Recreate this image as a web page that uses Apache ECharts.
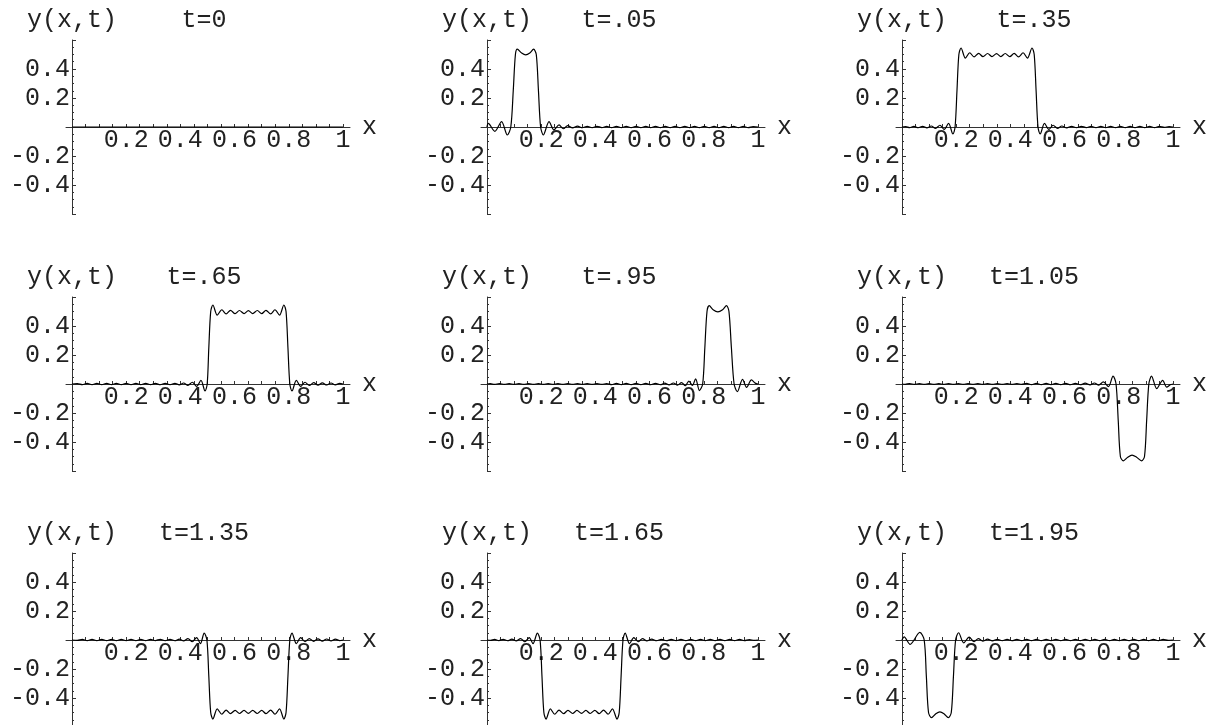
<!DOCTYPE html>
<html>
<head>
    <meta charset="utf-8">
    <title>y(x,t)</title>
    <style>
        html, body { margin: 0; padding: 0; background: #fff; }
    </style>
</head>
<body>
<!-- 9 small plots of the string -->
<div id="main" style="width: 1219px;height:725px;"></div>

<script src="https://cdn.jsdelivr.net/npm/echarts@6.0.0/dist/echarts.min.js"></script>

<script type="text/javascript">
// panel titles
var timeLabels = ['t=0', 't=.05', 't=.35', 't=.65', 't=.95', 't=1.05', 't=1.35', 't=1.65', 't=1.95'];

// tick labels
var xTickLabels = [0.2, 0.4, 0.6, 0.8, 1];
var yTickLabels = [-0.4, -0.2, 0.2, 0.4];
var xMinorTicks = [0.05, 0.1, 0.15, 0.2, 0.25, 0.3, 0.35, 0.4, 0.45, 0.5, 0.55, 0.6, 0.65, 0.7, 0.75, 0.8, 0.85, 0.9, 0.95, 1];

// curves, [x, y]
var curveT0 = [[0, 0], [1, 0]];

var curveT005 = [
    [0, 0], [0.005, 0.025], [0.029, -0.03], [0.054, 0.037], [0.075, -0.055], [0.088, 0], [0.097, 0.25], [0.105, 0.5],
    [0.112, 0.537], [0.128, 0.51], [0.143, 0.497], [0.158, 0.51], [0.172, 0.537], [0.182, 0.5], [0.19, 0.25], [0.198, 0],
    [0.208, -0.055], [0.229, 0.037], [0.247, -0.02], [0.266, 0.014], [0.282, -0.012], [0.298, 0.009],
    [0.316, -0.006], [0.334, 0.006], [0.352, -0.005], [0.37, 0.005], [0.388, -0.005], [0.406, 0.005], [0.424, -0.004],
    [0.442, 0.004], [0.46, -0.004], [0.478, 0.004], [0.496, -0.004], [0.514, 0.004], [0.532, -0.004], [0.55, 0.004],
    [0.568, -0.004], [0.586, 0.004], [0.604, -0.004], [0.622, 0.004], [0.64, -0.004], [0.658, 0.004], [0.676, -0.004],
    [0.694, 0.004], [0.712, -0.004], [0.73, 0.004], [0.748, -0.004], [0.766, 0.004], [0.784, -0.004], [0.802, 0.004],
    [0.82, -0.004], [0.838, 0.004], [0.856, -0.004], [0.874, 0.004], [0.892, -0.004], [0.91, 0.004], [0.928, -0.004],
    [0.946, 0.004], [0.964, -0.004], [0.982, 0.003], [1, 0]
];

var curveT035 = [
    [0, 0], [0.014, 0.003], [0.028, -0.004], [0.044, 0.004], [0.06, -0.005], [0.076, 0.005], [0.092, -0.006], [0.108, 0.007],
    [0.124, -0.009], [0.14, 0.012], [0.156, -0.017], [0.172, 0.025], [0.188, -0.048], [0.196, 0], [0.203, 0.25], [0.21, 0.5],
    [0.218, 0.545], [0.234, 0.475], [0.25, 0.512], [0.266, 0.483], [0.283, 0.508], [0.299, 0.485], [0.316, 0.507],
    [0.332, 0.486], [0.349, 0.506], [0.365, 0.486], [0.381, 0.507], [0.398, 0.485], [0.414, 0.508], [0.43, 0.483],
    [0.447, 0.512], [0.463, 0.475], [0.48, 0.545], [0.488, 0.5], [0.495, 0.25], [0.502, 0], [0.51, -0.048],
    [0.526, 0.025], [0.542, -0.017], [0.558, 0.012], [0.574, -0.009], [0.59, 0.007], [0.608, -0.006], [0.626, 0.005],
    [0.644, -0.005], [0.662, 0.005], [0.68, -0.004], [0.698, 0.004], [0.716, -0.004], [0.734, 0.004], [0.752, -0.004],
    [0.77, 0.004], [0.788, -0.004], [0.806, 0.004], [0.824, -0.004], [0.842, 0.004], [0.86, -0.004], [0.878, 0.004],
    [0.896, -0.004], [0.914, 0.004], [0.932, -0.004], [0.95, 0.004], [0.968, -0.003], [0.986, 0.003], [1, 0]
];

var curveT065 = [
    [0, 0], [0.02, 0.003], [0.038, -0.004], [0.056, 0.004], [0.074, -0.004], [0.092, 0.004], [0.11, -0.004], [0.128, 0.004],
    [0.146, -0.004], [0.164, 0.004], [0.182, -0.004], [0.2, 0.004], [0.218, -0.004], [0.236, 0.004], [0.254, -0.004],
    [0.272, 0.004], [0.29, -0.004], [0.308, 0.004], [0.326, -0.005], [0.344, 0.005], [0.362, -0.005], [0.38, 0.005],
    [0.396, -0.006], [0.412, 0.007], [0.428, -0.009], [0.444, 0.012], [0.46, -0.017], [0.476, 0.025], [0.491, -0.048],
    [0.499, 0], [0.505, 0.25], [0.512, 0.5], [0.52, 0.545], [0.536, 0.475], [0.553, 0.512], [0.569, 0.483], [0.585, 0.508],
    [0.602, 0.485], [0.618, 0.507], [0.635, 0.486], [0.651, 0.506], [0.667, 0.486], [0.684, 0.507], [0.7, 0.485],
    [0.716, 0.508], [0.733, 0.483], [0.749, 0.512], [0.766, 0.475], [0.782, 0.545], [0.79, 0.5], [0.797, 0.25],
    [0.804, 0], [0.812, -0.048], [0.828, 0.025], [0.844, -0.017], [0.86, 0.012], [0.876, -0.01], [0.892, 0.009],
    [0.908, -0.008], [0.924, 0.008], [0.94, -0.007], [0.956, 0.007], [0.972, -0.006], [0.988, 0.004], [1, 0]
];

var curveT095 = [
    [0, 0], [0.012, 0.002], [0.028, -0.003], [0.046, 0.003], [0.064, -0.003], [0.082, 0.003], [0.1, -0.003], [0.118, 0.003],
    [0.136, -0.003], [0.154, 0.003], [0.172, -0.003], [0.19, 0.003], [0.208, -0.003], [0.226, 0.003], [0.244, -0.003],
    [0.262, 0.003], [0.28, -0.003], [0.298, 0.003], [0.316, -0.003], [0.334, 0.003], [0.352, -0.003], [0.37, 0.003],
    [0.388, -0.003], [0.406, 0.003], [0.424, -0.003], [0.442, 0.003], [0.46, -0.004], [0.478, 0.004], [0.496, -0.004],
    [0.514, 0.004], [0.532, -0.004], [0.55, 0.004], [0.568, -0.004], [0.586, 0.004], [0.604, -0.005], [0.622, 0.005],
    [0.64, -0.005], [0.656, 0.006], [0.672, -0.006], [0.688, 0.007], [0.703, -0.008], [0.718, 0.01], [0.732, -0.012],
    [0.745, 0.02], [0.758, -0.01], [0.77, 0.035], [0.784, -0.045], [0.796, 0], [0.804, 0.25], [0.812, 0.5], [0.82, 0.54],
    [0.836, 0.51], [0.852, 0.498], [0.868, 0.51], [0.884, 0.54], [0.893, 0.5], [0.902, 0.25], [0.912, 0],
    [0.924, -0.053], [0.943, 0.032], [0.958, -0.023], [0.976, 0.028], [0.99, 0.006], [1, 0]
];

var curveT105 = [
    [0, 0], [0.012, -0.002], [0.028, 0.003], [0.046, -0.003], [0.064, 0.003], [0.082, -0.003], [0.1, 0.003], [0.118, -0.003],
    [0.136, 0.003], [0.154, -0.003], [0.172, 0.003], [0.19, -0.003], [0.208, 0.003], [0.226, -0.003], [0.244, 0.003],
    [0.262, -0.003], [0.28, 0.003], [0.298, -0.003], [0.316, 0.003], [0.334, -0.003], [0.352, 0.003], [0.37, -0.003],
    [0.388, 0.003], [0.406, -0.003], [0.424, 0.003], [0.442, -0.003], [0.46, 0.004], [0.478, -0.004], [0.496, 0.004],
    [0.514, -0.004], [0.532, 0.004], [0.55, -0.004], [0.568, 0.004], [0.586, -0.004], [0.604, 0.004], [0.622, -0.005],
    [0.64, 0.005], [0.658, -0.005], [0.676, 0.006], [0.694, -0.006], [0.71, 0.007], [0.726, -0.008], [0.743, 0.014],
    [0.762, -0.018], [0.779, 0.055], [0.79, 0], [0.798, -0.25], [0.806, -0.5], [0.817, -0.53], [0.833, -0.505],
    [0.849, -0.49], [0.866, -0.505], [0.884, -0.53], [0.895, -0.5], [0.903, -0.25], [0.911, 0], [0.921, 0.055],
    [0.94, -0.032], [0.962, 0.025], [0.977, -0.022], [0.99, -0.005], [1, 0]
];

var curveT135 = [
    [0, 0], [0.02, -0.003], [0.038, 0.004], [0.056, -0.004], [0.074, 0.004], [0.092, -0.004], [0.11, 0.004], [0.128, -0.004],
    [0.146, 0.004], [0.164, -0.004], [0.182, 0.004], [0.2, -0.004], [0.218, 0.004], [0.236, -0.004], [0.254, 0.004],
    [0.272, -0.004], [0.29, 0.004], [0.308, -0.004], [0.326, 0.005], [0.344, -0.005], [0.362, 0.005], [0.38, -0.005],
    [0.396, 0.006], [0.412, -0.007], [0.428, 0.009], [0.444, -0.012], [0.46, 0.017], [0.474, -0.025], [0.488, 0.048],
    [0.498, 0], [0.505, -0.25], [0.512, -0.5], [0.52, -0.545], [0.536, -0.475], [0.553, -0.512], [0.569, -0.483],
    [0.585, -0.508], [0.602, -0.485], [0.618, -0.507], [0.635, -0.486], [0.651, -0.506], [0.667, -0.486], [0.684, -0.507],
    [0.7, -0.485], [0.716, -0.508], [0.733, -0.483], [0.749, -0.512], [0.766, -0.475], [0.782, -0.545], [0.79, -0.5],
    [0.797, -0.25], [0.804, 0], [0.812, 0.048], [0.828, -0.025], [0.844, 0.017], [0.86, -0.012], [0.876, 0.01],
    [0.892, -0.009], [0.908, 0.008], [0.924, -0.008], [0.94, 0.007], [0.956, -0.007], [0.972, 0.006], [0.988, -0.004], [1, 0]
];

var curveT165 = [
    [0, 0], [0.014, -0.003], [0.028, 0.004], [0.044, -0.004], [0.06, 0.005], [0.076, -0.005], [0.092, 0.006], [0.108, -0.007],
    [0.124, 0.009], [0.14, -0.012], [0.156, 0.017], [0.17, -0.025], [0.186, 0.048], [0.196, 0], [0.203, -0.25], [0.21, -0.5],
    [0.218, -0.545], [0.234, -0.475], [0.25, -0.512], [0.266, -0.483], [0.283, -0.508], [0.299, -0.485], [0.316, -0.507],
    [0.332, -0.486], [0.349, -0.506], [0.365, -0.486], [0.381, -0.507], [0.398, -0.485], [0.414, -0.508], [0.43, -0.483],
    [0.447, -0.512], [0.463, -0.475], [0.48, -0.545], [0.488, -0.5], [0.495, -0.25], [0.502, 0], [0.51, 0.048],
    [0.526, -0.025], [0.542, 0.017], [0.558, -0.012], [0.574, 0.009], [0.59, -0.007], [0.608, 0.006], [0.626, -0.005],
    [0.644, 0.005], [0.662, -0.005], [0.68, 0.004], [0.698, -0.004], [0.716, 0.004], [0.734, -0.004], [0.752, 0.004],
    [0.77, -0.004], [0.788, 0.004], [0.806, -0.004], [0.824, 0.004], [0.842, -0.004], [0.86, 0.004], [0.878, -0.004],
    [0.896, 0.004], [0.914, -0.004], [0.932, 0.004], [0.95, -0.004], [0.968, 0.003], [0.986, -0.003], [1, 0]
];

var curveT195 = [
    [0, 0], [0.008, 0.022], [0.03, -0.03], [0.066, 0.052], [0.082, 0], [0.09, -0.25], [0.098, -0.5],
    [0.109, -0.535], [0.125, -0.508], [0.14, -0.495], [0.155, -0.508], [0.171, -0.535], [0.182, -0.5], [0.19, -0.25], [0.198, 0],
    [0.209, 0.05], [0.228, -0.02], [0.248, 0.02], [0.266, -0.012], [0.282, 0.01], [0.298, -0.008],
    [0.316, 0.006], [0.334, -0.006], [0.352, 0.005], [0.37, -0.005], [0.388, 0.005], [0.406, -0.005], [0.424, 0.004],
    [0.442, -0.004], [0.46, 0.004], [0.478, -0.004], [0.496, 0.004], [0.514, -0.004], [0.532, 0.004], [0.55, -0.004],
    [0.568, 0.004], [0.586, -0.004], [0.604, 0.004], [0.622, -0.004], [0.64, 0.004], [0.658, -0.004], [0.676, 0.004],
    [0.694, -0.004], [0.712, 0.004], [0.73, -0.004], [0.748, 0.004], [0.766, -0.004], [0.784, 0.004], [0.802, -0.004],
    [0.82, 0.004], [0.838, -0.004], [0.856, 0.004], [0.874, -0.004], [0.892, 0.004], [0.91, -0.004], [0.928, 0.004],
    [0.946, -0.004], [0.964, 0.004], [0.982, -0.003], [1, 0]
];

var curves = [curveT0, curveT005, curveT035, curveT065, curveT095, curveT105, curveT135, curveT165, curveT195];

var myChart = echarts.init(document.getElementById('main'));

var fontName = '"Liberation Mono", "DejaVu Sans Mono", monospace';
var textColor = '#222';
var axisColor = '#333';

function fmt(v) {
    return String(+(+v).toFixed(2));
}

var grids = [], xAxes = [], yAxes = [], series = [], texts = [];

for (var i = 0; i < 9; i++) {
    var col = i % 3, row = Math.floor(i / 3);
    var axisX = 72 + 415 * col;          // pixel of x=0
    var axisY = [127, 384, 640][row];    // pixel of y=0

    grids.push({
        left: axisX - 6,
        top: axisY - 87,
        width: 284,
        height: 174,
        containLabel: false,
        outerBoundsMode: 'none'
    });

    // x axis moved up from the grid bottom to y=0
    xAxes.push({
        type: 'value',
        gridIndex: i,
        position: 'bottom',
        offset: -87,
        min: -0.022,
        max: 1.026,
        axisLine: { onZero: false, lineStyle: { color: axisColor, width: 1 } },
        axisTick: { show: true, inside: true, length: 3, customValues: xMinorTicks, lineStyle: { color: axisColor } },
        axisLabel: {
            customValues: xTickLabels,
            formatter: fmt,
            margin: 1,
            fontFamily: fontName,
            fontSize: 25,
            color: textColor
        },
        splitLine: { show: false },
        name: 'x',
        nameLocation: 'end',
        nameGap: 12,
        nameTextStyle: { fontFamily: fontName, fontSize: 25, color: textColor }
    });

    // y axis moved right from the grid left to x=0
    yAxes.push({
        type: 'value',
        gridIndex: i,
        position: 'left',
        offset: -6,
        min: -0.6,
        max: 0.6,
        interval: 0.2,
        axisLine: { onZero: false, lineStyle: { color: axisColor, width: 1 } },
        axisTick: { show: true, inside: true, length: 4, lineStyle: { color: axisColor } },
        minorTick: { show: true, splitNumber: 4, length: 2, lineStyle: { color: axisColor } },
        axisLabel: {
            customValues: yTickLabels,
            formatter: fmt,
            margin: 2,
            fontFamily: fontName,
            fontSize: 25,
            color: textColor
        },
        splitLine: { show: false },
        name: 'y(x,t)',
        nameLocation: 'end',
        nameGap: 7,
        nameTextStyle: { fontFamily: fontName, fontSize: 25, color: textColor }
    });

    series.push({
        type: 'line',
        xAxisIndex: i,
        yAxisIndex: i,
        data: curves[i],
        showSymbol: false,
        smooth: 0.3,
        silent: true,
        lineStyle: { color: '#000', width: 1.2 }
    });

    texts.push({
        type: 'text',
        x: axisX + 132,
        y: axisY - 107,
        style: {
            text: timeLabels[i],
            font: '25px ' + fontName,
            fill: textColor,
            textAlign: 'center',
            textVerticalAlign: 'middle',
            align: 'center',
            verticalAlign: 'middle'
        }
    });
}

var option = {
    backgroundColor: '#fff',
    animation: false,
    grid: grids,
    xAxis: xAxes,
    yAxis: yAxes,
    series: series,
    graphic: texts
};

myChart.setOption(option);
</script>
</body>
</html>
